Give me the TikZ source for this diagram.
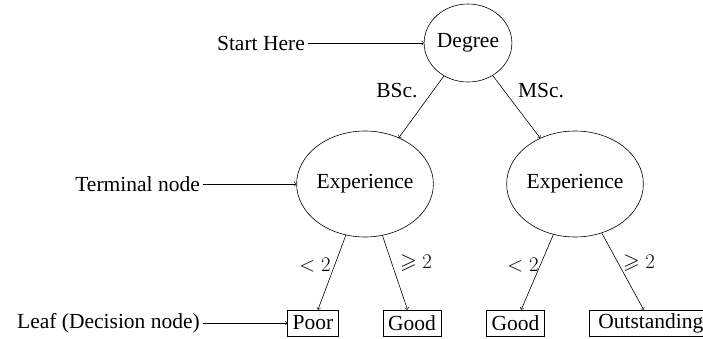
\documentclass[tikz,border=0pt]{standalone}
\usepackage{amssymb}
\usepackage{fontspec}
\setmainfont{Liberation Serif}
\usetikzlibrary{shapes.geometric}
\begin{document}
\begin{tikzpicture}[x=1pt,y=1pt,
  every node/.style={font=\fontsize{21.5}{24}\selectfont},
  dec/.style={ellipse,draw,line width=0.6pt,inner sep=0pt},
  leafbox/.style={draw,line width=0.6pt,inner xsep=5pt,inner ysep=0pt,minimum height=26pt},
  lbl/.style={inner sep=3pt},
  conn/.style={->,line width=0.6pt}]
\useasboundingbox (0,0) rectangle (703,-339);
\node[dec,minimum width=86pt,minimum height=78pt] (deg) at (468,-43) {Degree};
\node[dec,minimum width=120pt,minimum height=106pt] (e1) at (365,-184) {Experience};
\node[dec,minimum width=120pt,minimum height=106pt] (e2) at (575,-184) {Experience};
\node[leafbox] (poor) at (313,-323) {Poor};
\node[leafbox] (good1) at (412,-323) {Good};
\node[leafbox] (good2) at (515.5,-323) {Good};
\node[leafbox,anchor=west,inner xsep=9pt] (outst) at (589,-323) {Outstanding};
\node[lbl,anchor=east] (start) at (308,-43) {Start Here};
\node[lbl,anchor=east] (term) at (203,-184) {Terminal node};
\node[lbl,anchor=east] (leaf) at (203,-323) {Leaf (Decision node)};
\node (lbsc) at (397,-91) {BSc.};
\node (lmsc) at (541,-91) {MSc.};
\node (l1) at (315,-265) {$<2$};
\node (l2) at (416,-263) {$\geqslant 2$};
\node (l3) at (523,-265) {$<2$};
\node (l4) at (639,-263) {$\geqslant 2$};
\draw[conn] (start) -- (deg);
\draw[conn] (term) -- (e1);
\draw[conn] (leaf) -- (poor);
\draw[conn] (deg) -- (e1);
\draw[conn] (deg) -- (e2);
\draw[conn] (e1) -- (poor);
\draw[conn] (e1) -- (good1);
\draw[conn] (e2) -- (good2);
\draw[conn] (e2) -- (outst);
\end{tikzpicture}
\end{document}
